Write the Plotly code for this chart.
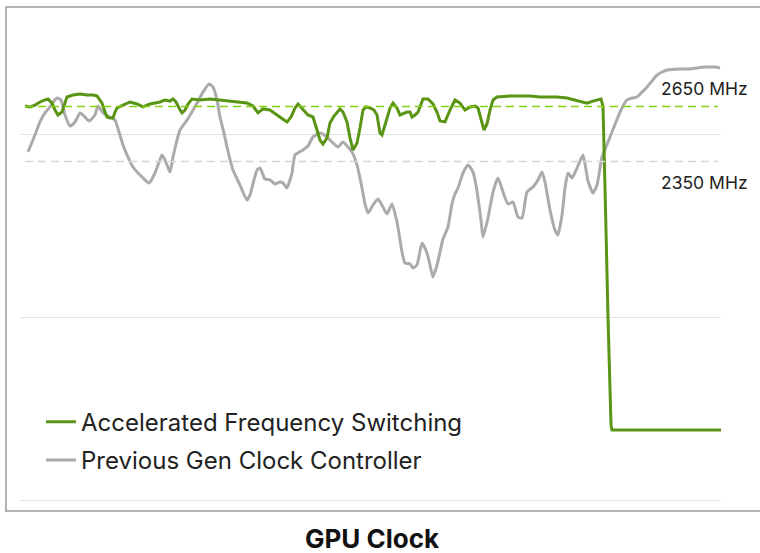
import plotly.graph_objects as go

# ---------------- data ----------------
afs_time = [0, 5, 10, 15, 20, 23, 27, 30, 33, 37, 40, 42, 48, 55, 62, 68, 72, 75, 77, 80,
            82, 85, 88, 90, 92, 98, 105, 112, 118, 125, 130, 135, 140, 145, 148, 151, 154, 157, 160, 163,
            167, 175, 185, 195, 208, 222, 228, 233, 238, 245, 252, 258, 262, 266, 270, 273, 278, 283, 288, 292,
            295, 298, 302, 305, 309, 315, 318, 322, 325, 328, 332, 335, 338, 341, 345, 349, 352, 355, 357, 360,
            362, 365, 368, 372, 375, 379, 382, 385, 387, 390, 393, 398, 403, 408, 412, 415, 420, 425, 430, 435,
            440, 445, 450, 453, 456, 459, 462, 465, 468, 472, 485, 495, 505, 515, 525, 532, 542, 550, 555, 562,
            568, 573, 576, 578, 579, 581, 583, 585, 586, 587, 605, 635, 665, 696]
afs_mhz = [2653, 2648, 2658, 2675, 2686, 2691, 2669, 2631, 2604, 2620, 2669, 2702, 2713, 2719, 2713, 2713, 2708, 2686, 2669, 2620,
           2593, 2587, 2587, 2620, 2642, 2658, 2675, 2664, 2648, 2664, 2669, 2675, 2686, 2680, 2691, 2675, 2642, 2615, 2631, 2664,
           2691, 2686, 2691, 2686, 2680, 2669, 2653, 2615, 2637, 2631, 2604, 2582, 2566, 2593, 2642, 2664, 2631, 2604, 2593, 2522,
           2467, 2445, 2478, 2560, 2598, 2637, 2620, 2566, 2478, 2413, 2451, 2533, 2631, 2648, 2642, 2631, 2604, 2505, 2495, 2549,
           2587, 2642, 2669, 2642, 2604, 2615, 2620, 2620, 2593, 2604, 2620, 2691, 2691, 2664, 2620, 2571, 2566, 2631, 2686, 2669,
           2631, 2648, 2653, 2642, 2587, 2522, 2555, 2631, 2686, 2702, 2708, 2708, 2708, 2702, 2702, 2702, 2697, 2686, 2675, 2669,
           2680, 2686, 2691, 2653, 2467, 1975, 1500, 1101, 910, 883, 883, 883, 883, 883]

prev_time = [3, 8, 15, 20, 25, 29, 32, 36, 40, 45, 50, 55, 58, 64, 70, 73, 78, 85, 90, 94,
             98, 103, 108, 113, 118, 124, 130, 134, 137, 140, 142, 145, 148, 152, 155, 162, 167, 172, 178, 184,
             188, 192, 195, 199, 202, 208, 215, 222, 225, 229, 232, 235, 240, 245, 250, 255, 258, 262, 265, 267,
             270, 278, 283, 288, 295, 302, 308, 313, 318, 323, 327, 332, 337, 340, 343, 348, 353, 358, 362, 367,
             372, 375, 377, 380, 385, 388, 392, 397, 402, 405, 408, 412, 415, 418, 423, 427, 430, 433, 438, 443,
             448, 451, 453, 456, 458, 463, 468, 473, 478, 483, 488, 493, 497, 502, 508, 513, 517, 520, 525, 530,
             533, 537, 540, 543, 547, 552, 558, 563, 568, 572, 575, 577, 581, 585, 589, 593, 597, 602, 607, 612,
             617, 622, 627, 632, 637, 642, 655, 665, 672, 680, 685, 690, 695]
prev_mhz = [2402, 2467, 2566, 2615, 2648, 2680, 2697, 2686, 2604, 2544, 2566, 2615, 2604, 2571, 2604, 2653, 2615, 2593, 2576, 2511,
            2440, 2374, 2320, 2287, 2260, 2232, 2287, 2347, 2385, 2358, 2331, 2292, 2374, 2467, 2522, 2576, 2620, 2669, 2729, 2773,
            2757, 2686, 2593, 2505, 2429, 2303, 2221, 2139, 2167, 2249, 2303, 2314, 2254, 2249, 2227, 2238, 2232, 2205, 2249, 2287,
            2385, 2413, 2434, 2484, 2505, 2484, 2451, 2429, 2456, 2429, 2402, 2331, 2205, 2118, 2068, 2112, 2145, 2101, 2063, 2118,
            2019, 1921, 1855, 1795, 1790, 1768, 1784, 1904, 1850, 1784, 1719, 1784, 1855, 1926, 1992, 2118, 2172, 2205, 2287, 2331,
            2292, 2221, 2150, 2030, 1937, 2041, 2183, 2260, 2183, 2118, 2128, 2046, 2041, 2183, 2210, 2249, 2292, 2238, 2085, 1975,
            1948, 2057, 2205, 2287, 2260, 2314, 2385, 2243, 2178, 2221, 2314, 2374, 2429, 2484, 2538, 2593, 2642, 2686, 2697, 2702,
            2729, 2757, 2790, 2822, 2839, 2850, 2855, 2855, 2861, 2866, 2866, 2866, 2861]

ref_levels = [2650, 2350]
ref_labels = ["2650 MHz", "2350 MHz"]
grid_vals = [500, 1500, 2500]
series_names = ["Accelerated Frequency Switching", "Previous Gen Clock Controller"]
title_text = "GPU Clock"

GREEN = "#5a9414"
GRAY = "#ababab"
FONT = "Inter"

fig = go.Figure()

fig.add_trace(go.Scatter(
    x=prev_time, y=prev_mhz, mode="lines", name=series_names[1],
    line=dict(color=GRAY, width=3, shape="spline", smoothing=0.5),
    legendgroup="b", legendrank=2,
))
fig.add_trace(go.Scatter(
    x=afs_time, y=afs_mhz, mode="lines", name=series_names[0],
    line=dict(color=GREEN, width=3),
    legendgroup="a", legendrank=1,
))

# reference dashed lines
fig.add_shape(type="line", xref="x", yref="y", x0=0, x1=693, y0=ref_levels[0], y1=ref_levels[0],
              line=dict(color="#84d016", width=1.5, dash="8px,5px"))
fig.add_shape(type="line", xref="x", yref="y", x0=0, x1=693, y0=ref_levels[1], y1=ref_levels[1],
              line=dict(color="#d6d6d6", width=1.5, dash="8px,5px"))

fig.add_annotation(xref="paper", yref="y", x=0.912, y=ref_levels[0], yshift=18, text=ref_labels[0],
                   showarrow=False, xanchor="left", yanchor="middle",
                   font=dict(family=FONT, size=17.5, color="#222222"))
fig.add_annotation(xref="paper", yref="y", x=0.912, y=ref_levels[1], yshift=-21, text=ref_labels[1],
                   showarrow=False, xanchor="left", yanchor="middle",
                   font=dict(family=FONT, size=17.5, color="#222222"))

# frame around the chart
fig.add_shape(type="rect", xref="paper", yref="paper", x0=-0.02, x1=1.1, y0=0, y1=1,
              line=dict(color="#9a9a9a", width=1.5), layer="below")

fig.add_annotation(xref="paper", yref="paper", x=0.502, y=-0.054, text="<b>" + title_text + "</b>",
                   showarrow=False, xanchor="center", yanchor="middle",
                   font=dict(family=FONT, size=26, color="#111111"))

fig.update_layout(
    width=760, height=553,
    margin=dict(l=20, r=39, t=7, b=42),
    paper_bgcolor="white", plot_bgcolor="white",
    showlegend=True,
    legend=dict(x=0.03, y=0.221, xanchor="left", yanchor="top",
                traceorder="grouped", tracegroupgap=4,
                font=dict(family=FONT, size=24, color="#222222"),
                bgcolor="rgba(0,0,0,0)"),
    xaxis=dict(range=[-5, 696], showgrid=False, zeroline=False, showticklabels=False, showline=False),
    yaxis=dict(range=[440, 3194], tickvals=grid_vals, showgrid=True, gridcolor="#e2e2e2", gridwidth=1,
               zeroline=False, showticklabels=False, showline=False),
    font=dict(family=FONT),
)

fig.write_html("out.html", config={"displayModeBar": False},
               post_script="document.body.style.margin='0';document.body.style.overflow='hidden';")
